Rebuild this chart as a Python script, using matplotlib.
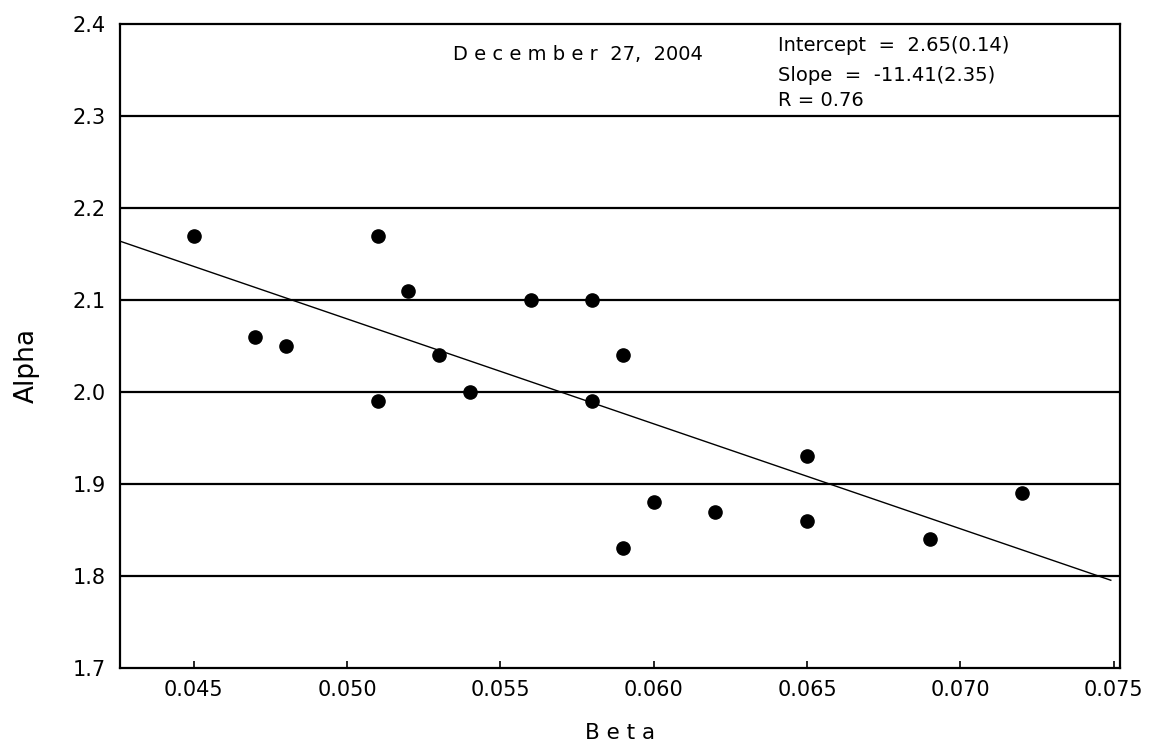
import numpy as np
import matplotlib.pyplot as plt

# Data
beta = [0.045, 0.047, 0.048, 0.051, 0.051, 0.052, 0.053, 0.054, 0.056, 0.058,
        0.058, 0.059, 0.059, 0.060, 0.062, 0.065, 0.065, 0.069, 0.072]
alpha = [2.17, 2.06, 2.05, 2.17, 1.99, 2.11, 2.04, 2.00, 2.10, 2.10,
         1.99, 2.04, 1.83, 1.88, 1.87, 1.93, 1.86, 1.84, 1.89]

intercept = 2.65
slope = -11.41
x_ticks = [0.045, 0.050, 0.055, 0.060, 0.065, 0.070, 0.075]
y_ticks = [1.7, 1.8, 1.9, 2.0, 2.1, 2.2, 2.3, 2.4]

plt.rcParams['font.family'] = ['DejaVu Sans']

fig = plt.figure(figsize=(11.59, 7.44), dpi=100)
ax = fig.add_axes([120 / 1159, 1 - 668 / 744, 1000 / 1159, 644 / 744])

# Horizontal grid lines
for y in y_ticks[1:-1]:
    ax.axhline(y, color='black', linewidth=1.6, zorder=1)

# Regression line
xl = np.array([0.0426, 0.0749])
ax.plot(xl, intercept + slope * xl, color='black', linewidth=1.0, zorder=2)

# Points
ax.plot(beta, alpha, 'o', color='black', markersize=9.5, zorder=3)

ax.set_xlim(0.0426, 0.0752)
ax.set_ylim(1.7, 2.4)
ax.set_xticks(x_ticks)
ax.set_xticklabels(['%.3f' % v for v in x_ticks])
ax.set_yticks(y_ticks)
ax.set_yticklabels(['%.1f' % v for v in y_ticks])
ax.tick_params(axis='x', direction='in', length=5, width=1.2, labelsize=15, pad=9)
ax.tick_params(axis='y', length=0, labelsize=15, pad=10)
for s in ax.spines.values():
    s.set_linewidth(1.6)

ax.set_xlabel('B e t a', fontsize=15.5, va='center')
ax.xaxis.set_label_coords(0.5, -0.101)
ax.set_ylabel('Alpha', fontsize=19, va='center')
ax.yaxis.set_label_coords(-0.093, 0.47)

ax.text(0.05753, 2.367, 'D e c e m b e r  27,  2004', ha='center', va='center', fontsize=14)
ax.text(0.06405, 2.377, 'Intercept  =  2.65(0.14)', ha='left', va='center', fontsize=14)
ax.text(0.06405, 2.3435, 'Slope  =  -11.41(2.35)', ha='left', va='center', fontsize=14)
ax.text(0.06405, 2.317, 'R = 0.76', ha='left', va='center', fontsize=14)

plt.savefig('out.png', dpi=100)
